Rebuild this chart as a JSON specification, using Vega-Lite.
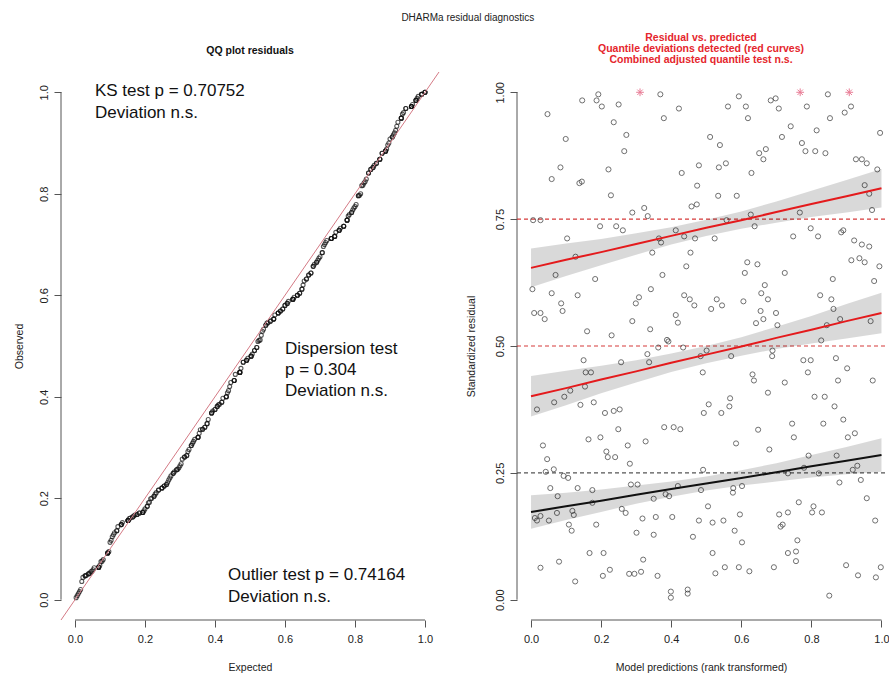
{
"$schema": "https://vega.github.io/schema/vega-lite/v6.json",
"padding": {"left": 14, "top": 12, "right": 0, "bottom": 0},
"spacing": 78,
"bounds": "flush",
"title": {"text": "DHARMa residual diagnostics", "anchor": "middle", "dx": 16, "fontSize": 10, "fontWeight": "normal", "font": "Liberation Sans", "color": "#222", "offset": 10},
"config": {
  "view": {"stroke": null},
  "font": "Liberation Sans",
  "axis": {"domain": false, "grid": false, "tickSize": 7, "tickColor": "#555", "tickWidth": 1, "labelFont": "Liberation Sans", "labelFontSize": 11, "labelColor": "#222", "labelPadding": 6, "titleFont": "Liberation Sans", "titleFontSize": 10.5, "titleFontWeight": "normal", "titleColor": "#222", "titlePadding": 18},
  "axisY": {"labelAngle": -90, "labelAlign": "center", "labelBaseline": "bottom", "labelPadding": 5, "titlePadding": 13.5},
  "title": {"font": "Liberation Sans", "fontSize": 10.5, "fontWeight": "bold", "color": "#111"}
},
"datasets": {
"one": [{}],
"res": [
{"x":0.311,"y":1.0,"o":1},{"x":0.192,"y":0.996},{"x":0.369,"y":0.996},{"x":0.146,"y":0.984},{"x":0.187,"y":0.984},{"x":0.202,"y":0.972},{"x":0.250,"y":0.976},{"x":0.422,"y":0.968},{"x":0.047,"y":0.957},{"x":0.379,"y":0.949},
{"x":0.236,"y":0.941},{"x":0.099,"y":0.908},{"x":0.272,"y":0.916},{"x":0.266,"y":0.884},{"x":0.084,"y":0.852},{"x":0.221,"y":0.848},{"x":0.479,"y":0.856},{"x":0.430,"y":0.841},{"x":0.059,"y":0.829},{"x":0.138,"y":0.821},
{"x":0.145,"y":0.824},{"x":0.474,"y":0.816},{"x":0.228,"y":0.797},{"x":0.458,"y":0.775},{"x":0.473,"y":0.779},{"x":0.323,"y":0.772},{"x":0.289,"y":0.763},{"x":0.333,"y":0.756},{"x":0.006,"y":0.748},{"x":0.027,"y":0.748},
{"x":0.197,"y":0.736},{"x":0.243,"y":0.736},{"x":0.262,"y":0.728},{"x":0.413,"y":0.728},{"x":0.103,"y":0.712},{"x":0.365,"y":0.712},{"x":0.371,"y":0.704},{"x":0.437,"y":0.716},{"x":0.468,"y":0.712},{"x":0.346,"y":0.684},
{"x":0.455,"y":0.684},{"x":0.127,"y":0.676},{"x":0.443,"y":0.657},{"x":0.070,"y":0.640},{"x":0.375,"y":0.640},{"x":0.183,"y":0.632},{"x":0.004,"y":0.612},{"x":0.342,"y":0.612},{"x":0.059,"y":0.604},{"x":0.133,"y":0.600},
{"x":0.437,"y":0.600},{"x":0.453,"y":0.592},{"x":0.308,"y":0.596},{"x":0.299,"y":0.584},{"x":0.086,"y":0.584},{"x":0.466,"y":0.580},{"x":0.090,"y":0.569},{"x":0.009,"y":0.565},{"x":0.027,"y":0.565},{"x":0.039,"y":0.553},
{"x":0.413,"y":0.561},{"x":0.419,"y":0.546},{"x":0.289,"y":0.549},{"x":0.160,"y":0.529},{"x":0.340,"y":0.533},{"x":0.230,"y":0.521},{"x":0.388,"y":0.512},{"x":0.392,"y":0.509},{"x":0.363,"y":0.497},{"x":0.434,"y":0.497},
{"x":0.332,"y":0.484},{"x":0.337,"y":0.468},{"x":0.257,"y":0.468},{"x":0.150,"y":0.472},{"x":0.156,"y":0.448},{"x":0.171,"y":0.448},{"x":0.484,"y":0.480},{"x":0.490,"y":0.448},{"x":0.154,"y":0.420},{"x":0.112,"y":0.412},
{"x":0.095,"y":0.400},{"x":0.066,"y":0.389},{"x":0.141,"y":0.384},{"x":0.179,"y":0.389},{"x":0.017,"y":0.375},{"x":0.211,"y":0.368},{"x":0.236,"y":0.372},{"x":0.253,"y":0.375},{"x":0.493,"y":0.368},{"x":0.249,"y":0.336},
{"x":0.380,"y":0.340},{"x":0.407,"y":0.340},{"x":0.426,"y":0.336},{"x":0.164,"y":0.316},{"x":0.198,"y":0.320},{"x":0.034,"y":0.304},{"x":0.276,"y":0.304},{"x":0.327,"y":0.312},{"x":0.215,"y":0.292},{"x":0.219,"y":0.281},
{"x":0.240,"y":0.281},{"x":0.046,"y":0.277},{"x":0.282,"y":0.268},{"x":0.042,"y":0.252},{"x":0.065,"y":0.257},{"x":0.093,"y":0.244},{"x":0.106,"y":0.240},{"x":0.491,"y":0.256},{"x":0.055,"y":0.220},{"x":0.133,"y":0.220},
{"x":0.175,"y":0.216},{"x":0.285,"y":0.227},{"x":0.304,"y":0.227},{"x":0.419,"y":0.224},{"x":0.076,"y":0.204},{"x":0.384,"y":0.208},{"x":0.394,"y":0.204},{"x":0.350,"y":0.199},{"x":0.485,"y":0.216},{"x":0.175,"y":0.191},
{"x":0.011,"y":0.161},{"x":0.017,"y":0.156},{"x":0.027,"y":0.165},{"x":0.051,"y":0.156},{"x":0.074,"y":0.171},{"x":0.118,"y":0.175},{"x":0.122,"y":0.167},{"x":0.259,"y":0.179},{"x":0.270,"y":0.171},{"x":0.108,"y":0.148},
{"x":0.116,"y":0.136},{"x":0.186,"y":0.148},{"x":0.318,"y":0.160},{"x":0.356,"y":0.163},{"x":0.403,"y":0.163},{"x":0.479,"y":0.156},{"x":0.301,"y":0.132},{"x":0.350,"y":0.128},{"x":0.462,"y":0.124},{"x":0.167,"y":0.092},
{"x":0.207,"y":0.092},{"x":0.027,"y":0.063},{"x":0.080,"y":0.075},{"x":0.320,"y":0.079},{"x":0.225,"y":0.059},{"x":0.205,"y":0.047},{"x":0.280,"y":0.051},{"x":0.295,"y":0.051},{"x":0.314,"y":0.055},{"x":0.361,"y":0.047},
{"x":0.126,"y":0.036},{"x":0.399,"y":0.016},{"x":0.399,"y":0.004},{"x":0.447,"y":0.020},{"x":0.447,"y":0.012},
{"x":0.768,"y":1.0,"o":1},{"x":0.908,"y":1.0,"o":1},{"x":0.593,"y":0.992},{"x":0.847,"y":0.996},{"x":0.562,"y":0.972},{"x":0.613,"y":0.972},{"x":0.684,"y":0.984},{"x":0.698,"y":0.988},{"x":0.707,"y":0.968},{"x":0.787,"y":0.972},
{"x":0.895,"y":0.960},{"x":0.913,"y":0.972},{"x":0.619,"y":0.949},{"x":0.853,"y":0.949},{"x":0.741,"y":0.933},{"x":0.815,"y":0.925},{"x":0.996,"y":0.920},{"x":0.511,"y":0.912},{"x":0.716,"y":0.912},{"x":0.539,"y":0.896},
{"x":0.773,"y":0.900},{"x":0.783,"y":0.884},{"x":0.811,"y":0.884},{"x":0.840,"y":0.880},{"x":0.651,"y":0.880},{"x":0.670,"y":0.888},{"x":0.663,"y":0.868},{"x":0.927,"y":0.868},{"x":0.944,"y":0.868},{"x":0.958,"y":0.860},
{"x":0.988,"y":0.848},{"x":0.536,"y":0.852},{"x":0.556,"y":0.860},{"x":0.629,"y":0.841},{"x":0.952,"y":0.817},{"x":0.965,"y":0.800},{"x":0.534,"y":0.796},{"x":0.587,"y":0.796},{"x":0.973,"y":0.768},{"x":0.627,"y":0.759},
{"x":0.767,"y":0.763},{"x":0.558,"y":0.748},{"x":0.638,"y":0.736},{"x":0.524,"y":0.712},{"x":0.748,"y":0.716},{"x":0.798,"y":0.732},{"x":0.819,"y":0.716},{"x":0.885,"y":0.724},{"x":0.891,"y":0.728},{"x":0.922,"y":0.708},
{"x":0.944,"y":0.700},{"x":0.965,"y":0.696},{"x":0.617,"y":0.665},{"x":0.646,"y":0.661},{"x":0.610,"y":0.644},{"x":0.724,"y":0.644},{"x":0.914,"y":0.669},{"x":0.937,"y":0.673},{"x":0.952,"y":0.665},{"x":0.994,"y":0.657},
{"x":0.861,"y":0.632},{"x":0.979,"y":0.628},{"x":0.667,"y":0.620},{"x":0.657,"y":0.604},{"x":0.825,"y":0.600},{"x":0.530,"y":0.592},{"x":0.545,"y":0.580},{"x":0.514,"y":0.573},{"x":0.606,"y":0.588},{"x":0.676,"y":0.592},
{"x":0.857,"y":0.592},{"x":0.863,"y":0.573},{"x":0.655,"y":0.569},{"x":0.699,"y":0.565},{"x":0.663,"y":0.553},{"x":0.642,"y":0.545},{"x":0.703,"y":0.541},{"x":0.844,"y":0.541},{"x":0.882,"y":0.553},{"x":0.969,"y":0.549},
{"x":0.828,"y":0.511},
{"x":0.501,"y":0.491},{"x":0.689,"y":0.491},{"x":0.688,"y":0.480},{"x":0.571,"y":0.480},{"x":0.777,"y":0.472},{"x":0.798,"y":0.472},{"x":0.870,"y":0.476},{"x":0.902,"y":0.456},{"x":0.790,"y":0.448},{"x":0.632,"y":0.444},
{"x":0.636,"y":0.432},{"x":0.724,"y":0.428},{"x":0.876,"y":0.432},{"x":0.975,"y":0.432},{"x":0.676,"y":0.408},{"x":0.809,"y":0.400},{"x":0.838,"y":0.400},{"x":0.568,"y":0.397},{"x":0.566,"y":0.381},{"x":0.507,"y":0.385},
{"x":0.543,"y":0.368},{"x":0.866,"y":0.381},{"x":0.891,"y":0.355},{"x":0.745,"y":0.347},{"x":0.834,"y":0.347},{"x":0.648,"y":0.335},{"x":0.750,"y":0.320},{"x":0.904,"y":0.320},{"x":0.924,"y":0.328},{"x":0.585,"y":0.308},
{"x":0.680,"y":0.296},{"x":0.792,"y":0.284},{"x":0.872,"y":0.284},{"x":0.779,"y":0.260},{"x":0.733,"y":0.249},{"x":0.821,"y":0.249},{"x":0.918,"y":0.256},{"x":0.931,"y":0.264},{"x":0.880,"y":0.231},{"x":0.941,"y":0.236},
{"x":0.577,"y":0.220},{"x":0.576,"y":0.211},{"x":0.602,"y":0.224},{"x":0.958,"y":0.200},{"x":0.505,"y":0.184},{"x":0.764,"y":0.192},{"x":0.806,"y":0.184},{"x":0.802,"y":0.172},{"x":0.830,"y":0.172},{"x":0.596,"y":0.168},
{"x":0.708,"y":0.168},{"x":0.733,"y":0.172},{"x":0.518,"y":0.152},{"x":0.549,"y":0.156},{"x":0.712,"y":0.144},{"x":0.718,"y":0.148},{"x":0.982,"y":0.156},{"x":0.581,"y":0.136},{"x":0.760,"y":0.117},{"x":0.602,"y":0.113},
{"x":0.733,"y":0.092},{"x":0.756,"y":0.095},{"x":0.756,"y":0.076},{"x":0.518,"y":0.092},{"x":0.526,"y":0.052},{"x":0.553,"y":0.064},{"x":0.593,"y":0.064},{"x":0.623,"y":0.056},{"x":0.693,"y":0.064},{"x":0.899,"y":0.068},
{"x":0.933,"y":0.048},{"x":0.984,"y":0.044},{"x":0.998,"y":0.064},{"x":0.851,"y":0.008}
],
"fits": [
{"q":"0.75","x":0.0,"fit":0.654,"lo":0.616,"hi":0.692},{"q":"0.75","x":0.1,"fit":0.670,"lo":0.638,"hi":0.702},{"q":"0.75","x":0.2,"fit":0.685,"lo":0.659,"hi":0.711},{"q":"0.75","x":0.3,"fit":0.701,"lo":0.680,"hi":0.722},{"q":"0.75","x":0.4,"fit":0.717,"lo":0.700,"hi":0.734},{"q":"0.75","x":0.5,"fit":0.733,"lo":0.717,"hi":0.749},{"q":"0.75","x":0.6,"fit":0.748,"lo":0.731,"hi":0.765},{"q":"0.75","x":0.7,"fit":0.764,"lo":0.743,"hi":0.785},{"q":"0.75","x":0.8,"fit":0.780,"lo":0.754,"hi":0.806},{"q":"0.75","x":0.9,"fit":0.795,"lo":0.763,"hi":0.827},{"q":"0.75","x":1.0,"fit":0.811,"lo":0.773,"hi":0.849},
{"q":"0.5","x":0.0,"fit":0.401,"lo":0.361,"hi":0.441},{"q":"0.5","x":0.1,"fit":0.417,"lo":0.383,"hi":0.451},{"q":"0.5","x":0.2,"fit":0.434,"lo":0.407,"hi":0.461},{"q":"0.5","x":0.3,"fit":0.450,"lo":0.428,"hi":0.472},{"q":"0.5","x":0.4,"fit":0.467,"lo":0.449,"hi":0.485},{"q":"0.5","x":0.5,"fit":0.483,"lo":0.466,"hi":0.500},{"q":"0.5","x":0.6,"fit":0.499,"lo":0.481,"hi":0.517},{"q":"0.5","x":0.7,"fit":0.516,"lo":0.494,"hi":0.538},{"q":"0.5","x":0.8,"fit":0.532,"lo":0.505,"hi":0.559},{"q":"0.5","x":0.9,"fit":0.549,"lo":0.515,"hi":0.583},{"q":"0.5","x":1.0,"fit":0.565,"lo":0.525,"hi":0.605},
{"q":"0.25","x":0.0,"fit":0.173,"lo":0.140,"hi":0.206},{"q":"0.25","x":0.1,"fit":0.184,"lo":0.157,"hi":0.211},{"q":"0.25","x":0.2,"fit":0.195,"lo":0.173,"hi":0.217},{"q":"0.25","x":0.3,"fit":0.207,"lo":0.189,"hi":0.225},{"q":"0.25","x":0.4,"fit":0.218,"lo":0.203,"hi":0.233},{"q":"0.25","x":0.5,"fit":0.229,"lo":0.215,"hi":0.243},{"q":"0.25","x":0.6,"fit":0.240,"lo":0.225,"hi":0.255},{"q":"0.25","x":0.7,"fit":0.251,"lo":0.233,"hi":0.269},{"q":"0.25","x":0.8,"fit":0.263,"lo":0.241,"hi":0.285},{"q":"0.25","x":0.9,"fit":0.274,"lo":0.247,"hi":0.301},{"q":"0.25","x":1.0,"fit":0.285,"lo":0.252,"hi":0.318}
]
},
"hconcat": [
{
  "width": 378, "height": 548,
  "title": {"text": "QQ plot residuals", "offset": 15},
  "layer": [
    {
      "data": {"name": "res"},
      "transform": [{"window": [{"op": "cume_dist", "as": "expected"}], "sort": [{"field": "y", "order": "ascending"}]}],
      "mark": {"type": "point", "filled": false, "size": 16, "color": "#111", "strokeWidth": 1.1},
      "encoding": {
        "x": {"field": "expected", "type": "quantitative", "scale": {"domain": [-0.04, 1.04], "nice": false, "zero": false}, "axis": {"title": "Expected", "values": [0, 0.2, 0.4, 0.6, 0.8, 1], "format": ".1f"}},
        "y": {"field": "y", "type": "quantitative", "scale": {"domain": [-0.04, 1.04], "nice": false, "zero": false}, "axis": {"title": "Observed", "values": [0, 0.2, 0.4, 0.6, 0.8, 1], "format": ".1f"}}
      }
    },
    {"data": {"name": "one"}, "mark": {"type": "rule", "color": "#d47a85", "strokeWidth": 1}, "encoding": {"x": {"datum": -0.04}, "y": {"datum": -0.04}, "x2": {"datum": 1.04}, "y2": {"datum": 1.04}}},
    {"data": {"name": "one"}, "mark": {"type": "rule", "color": "#555", "strokeWidth": 1}, "encoding": {"x": {"datum": 0}, "x2": {"datum": 1}, "y": {"datum": -0.04}}},
    {"data": {"name": "one"}, "mark": {"type": "rule", "color": "#555", "strokeWidth": 1}, "encoding": {"y": {"datum": 0}, "y2": {"datum": 1}, "x": {"datum": -0.04}}},
    {"data": {"name": "one"}, "mark": {"type": "text", "align": "left", "baseline": "middle", "fontSize": 17, "fontWeight": "normal", "lineHeight": 22, "fill": "#111"}, "encoding": {"x": {"datum": 0.057}, "y": {"datum": 1.002}, "text": {"value": ["KS test p = 0.70752", "Deviation n.s."]}}},
    {"data": {"name": "one"}, "mark": {"type": "text", "align": "left", "baseline": "middle", "fontSize": 17, "fontWeight": "normal", "lineHeight": 21, "fill": "#111"}, "encoding": {"x": {"datum": 0.6}, "y": {"datum": 0.494}, "text": {"value": ["Dispersion test", "p = 0.304", "Deviation n.s."]}}},
    {"data": {"name": "one"}, "mark": {"type": "text", "align": "left", "baseline": "middle", "fontSize": 17, "fontWeight": "normal", "lineHeight": 22, "fill": "#111"}, "encoding": {"x": {"datum": 0.437}, "y": {"datum": 0.049}, "text": {"value": ["Outlier test p = 0.74164", "Deviation n.s."]}}}
  ]
},
{
  "width": 368, "height": 548,
  "title": {"text": ["Residual vs. predicted", "Quantile deviations detected (red curves)", "Combined adjusted quantile test n.s."], "color": "#e5262d", "lineHeight": 11, "offset": 7},
  "layer": [
    {
      "data": {"name": "fits"},
      "mark": {"type": "area", "color": "#000", "opacity": 0.0},
      "encoding": {
        "x": {"field": "x", "type": "quantitative", "scale": {"domain": [-0.04, 1.01], "nice": false, "zero": false}, "axis": {"title": "Model predictions (rank transformed)", "values": [0, 0.2, 0.4, 0.6, 0.8, 1], "format": ".1f"}},
        "y": {"field": "lo", "type": "quantitative", "scale": {"domain": [-0.04, 1.04], "nice": false, "zero": false}, "axis": {"title": "Standardized residual", "values": [0, 0.25, 0.5, 0.75, 1], "format": ".2f", "titlePadding": 18}},
        "y2": {"field": "hi"},
        "detail": {"field": "q"}
      }
    },
    {"data": {"name": "one"}, "mark": {"type": "rule", "color": "#555", "strokeWidth": 1}, "encoding": {"x": {"datum": 0}, "x2": {"datum": 1}, "y": {"datum": -0.04}}},
    {"data": {"name": "one"}, "mark": {"type": "rule", "color": "#555", "strokeWidth": 1}, "encoding": {"y": {"datum": 0}, "y2": {"datum": 1}, "x": {"datum": -0.04}}},
    {"data": {"name": "one"}, "mark": {"type": "rule", "color": "#555", "strokeWidth": 1.2, "strokeDash": [4, 3]}, "encoding": {"y": {"datum": 0.25}}},
    {"data": {"name": "one"}, "mark": {"type": "rule", "color": "#d63a3a", "strokeWidth": 1.2, "strokeDash": [4, 3]}, "encoding": {"y": {"datum": 0.5}}},
    {"data": {"name": "one"}, "mark": {"type": "rule", "color": "#d63a3a", "strokeWidth": 1.2, "strokeDash": [4, 3]}, "encoding": {"y": {"datum": 0.75}}},
    {
      "data": {"name": "res"},
      "transform": [{"filter": "datum.o !== 1"}],
      "mark": {"type": "point", "filled": false, "size": 26, "color": "#333", "strokeWidth": 1},
      "encoding": {"x": {"field": "x", "type": "quantitative"}, "y": {"field": "y", "type": "quantitative"}}
    },
    {
      "data": {"name": "fits"},
      "mark": {"type": "area", "color": "#000", "opacity": 0.15},
      "encoding": {"x": {"field": "x", "type": "quantitative"}, "y": {"field": "lo", "type": "quantitative"}, "y2": {"field": "hi"}, "detail": {"field": "q"}}
    },
    {
      "data": {"name": "fits"},
      "mark": {"type": "line", "strokeWidth": 2},
      "encoding": {"x": {"field": "x", "type": "quantitative"}, "y": {"field": "fit", "type": "quantitative"}, "color": {"field": "q", "type": "nominal", "scale": {"domain": ["0.25", "0.5", "0.75"], "range": ["#111111", "#e41a1c", "#e41a1c"]}, "legend": null}}
    },
    {
      "data": {"name": "res"},
      "transform": [{"filter": "datum.o === 1"}],
      "mark": {"type": "point", "filled": false, "size": 60, "color": "#e0456a", "strokeWidth": 1, "shape": "M-1,0L1,0M0,-1L0,1M-0.7,-0.7L0.7,0.7M-0.7,0.7L0.7,-0.7"},
      "encoding": {"x": {"field": "x", "type": "quantitative"}, "y": {"field": "y", "type": "quantitative"}}
    }
  ]
}
]
}
